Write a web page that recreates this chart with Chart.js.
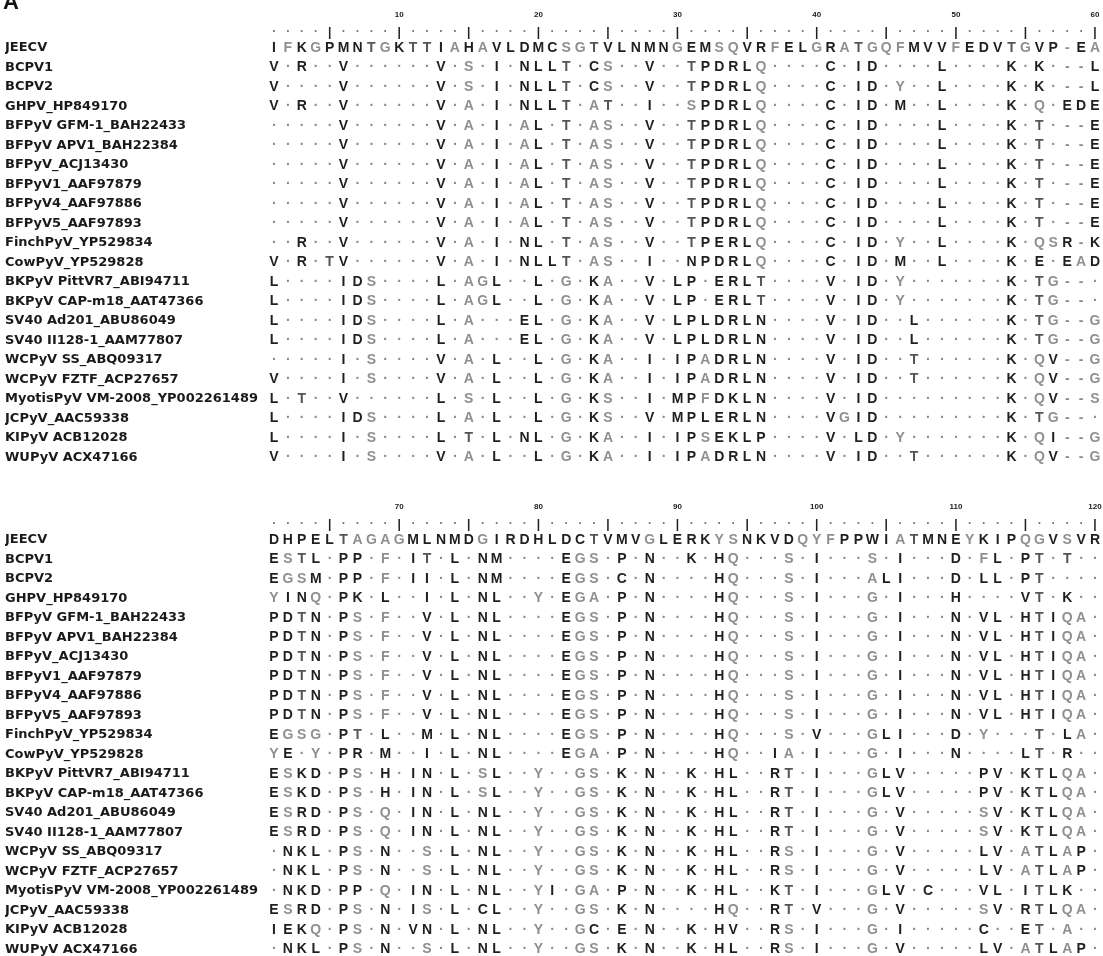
<!DOCTYPE html>
<html>
<head>
<meta charset="utf-8">
<script src="https://cdn.jsdelivr.net/npm/chart.js@4.4.0/dist/chart.umd.min.js"></script>
<style>
  html, body { margin: 0; padding: 0; background: #fff; }
</style>
</head>
<body>
<canvas id="alignChart" width="1103" height="956"></canvas>
<script>
// sequence names (same order in both blocks)
const names = [
  "JEECV", "BCPV1", "BCPV2", "GHPV_HP849170", "BFPyV GFM-1_BAH22433",
  "BFPyV APV1_BAH22384", "BFPyV_ACJ13430", "BFPyV1_AAF97879", "BFPyV4_AAF97886",
  "BFPyV5_AAF97893", "FinchPyV_YP529834", "CowPyV_YP529828", "BKPyV PittVR7_ABI94711",
  "BKPyV CAP-m18_AAT47366", "SV40 Ad201_ABU86049", "SV40 II128-1_AAM77807",
  "WCPyV SS_ABQ09317", "WCPyV FZTF_ACP27657", "MyotisPyV VM-2008_YP002261489",
  "JCPyV_AAC59338", "KIPyV ACB12028", "WUPyV ACX47166"
];

// positions 1-60
const seqTop = [
  "IFKGPMNTGKTTIAHAVLDMCSGTVLNMNGEMSQVRFELGRATGQFMVVFEDVTGVP-EA",
  "V.R..V......V.S.I.NLLT.CS..V..TPDRLQ....C.ID....L....K.K.--L",
  "V....V......V.S.I.NLLT.CS..V..TPDRLQ....C.ID.Y..L....K.K.--L",
  "V.R..V......V.A.I.NLLT.AT..I..SPDRLQ....C.ID.M..L....K.Q.EDE",
  ".....V......V.A.I.AL.T.AS..V..TPDRLQ....C.ID....L....K.T.--E",
  ".....V......V.A.I.AL.T.AS..V..TPDRLQ....C.ID....L....K.T.--E",
  ".....V......V.A.I.AL.T.AS..V..TPDRLQ....C.ID....L....K.T.--E",
  ".....V......V.A.I.AL.T.AS..V..TPDRLQ....C.ID....L....K.T.--E",
  ".....V......V.A.I.AL.T.AS..V..TPDRLQ....C.ID....L....K.T.--E",
  ".....V......V.A.I.AL.T.AS..V..TPDRLQ....C.ID....L....K.T.--E",
  "..R..V......V.A.I.NL.T.AS..V..TPERLQ....C.ID.Y..L....K.QSR-K",
  "V.R.TV......V.A.I.NLLT.AS..I..NPDRLQ....C.ID.M..L....K.E.EAD",
  "L....IDS....L.AGL..L.G.KA..V.LP.ERLT....V.ID.Y.......K.TG--.",
  "L....IDS....L.AGL..L.G.KA..V.LP.ERLT....V.ID.Y.......K.TG--.",
  "L....IDS....L.A...EL.G.KA..V.LPLDRLN....V.ID..L......K.TG--G",
  "L....IDS....L.A...EL.G.KA..V.LPLDRLN....V.ID..L......K.TG--G",
  ".....I.S....V.A.L..L.G.KA..I.IPADRLN....V.ID..T......K.QV--G",
  "V....I.S....V.A.L..L.G.KA..I.IPADRLN....V.ID..T......K.QV--G",
  "L.T..V......L.S.L..L.G.KS..I.MPFDKLN....V.ID.........K.QV--S",
  "L....IDS....L.A.L..L.G.KS..V.MPLERLN....VGID.........K.TG--.",
  "L....I.S....L.T.L.NL.G.KA..I.IPSEKLP....V.LD.Y.......K.QI--G",
  "V....I.S....V.A.L..L.G.KA..I.IPADRLN....V.ID..T......K.QV--G"
];

// positions 61-120
const seqBottom = [
  "DHPELTAGAGMLNMDGIRDHLDCTVMVGLERKYSNKVDQYFPPWIATMNEYKIPQGVSVR",
  "ESTL.PP.F.IT.L.NM....EGS.P.N..K.HQ...S.I...S.I...D.FL.PT.T..",
  "EGSM.PP.F.II.L.NM....EGS.C.N....HQ...S.I...ALI...D.LL.PT....",
  "YINQ.PK.L..I.L.NL..Y.EGA.P.N....HQ...S.I...G.I...H....VT.K..",
  "PDTN.PS.F..V.L.NL....EGS.P.N....HQ...S.I...G.I...N.VL.HTIQA.",
  "PDTN.PS.F..V.L.NL....EGS.P.N....HQ...S.I...G.I...N.VL.HTIQA.",
  "PDTN.PS.F..V.L.NL....EGS.P.N....HQ...S.I...G.I...N.VL.HTIQA.",
  "PDTN.PS.F..V.L.NL....EGS.P.N....HQ...S.I...G.I...N.VL.HTIQA.",
  "PDTN.PS.F..V.L.NL....EGS.P.N....HQ...S.I...G.I...N.VL.HTIQA.",
  "PDTN.PS.F..V.L.NL....EGS.P.N....HQ...S.I...G.I...N.VL.HTIQA.",
  "EGSG.PT.L..M.L.NL....EGS.P.N....HQ...S.V...GLI...D.Y...T.LA.",
  "YE.Y.PR.M..I.L.NL....EGA.P.N....HQ..IA.I...G.I...N....LT.R..",
  "ESKD.PS.H.IN.L.SL..Y..GS.K.N..K.HL..RT.I...GLV.....PV.KTLQA.",
  "ESKD.PS.H.IN.L.SL..Y..GS.K.N..K.HL..RT.I...GLV.....PV.KTLQA.",
  "ESRD.PS.Q.IN.L.NL..Y..GS.K.N..K.HL..RT.I...G.V.....SV.KTLQA.",
  "ESRD.PS.Q.IN.L.NL..Y..GS.K.N..K.HL..RT.I...G.V.....SV.KTLQA.",
  ".NKL.PS.N..S.L.NL..Y..GS.K.N..K.HL..RS.I...G.V.....LV.ATLAP.",
  ".NKL.PS.N..S.L.NL..Y..GS.K.N..K.HL..RS.I...G.V.....LV.ATLAP.",
  ".NKD.PP.Q.IN.L.NL..YI.GA.P.N..K.HL..KT.I...GLV.C...VL.ITLK..",
  "ESRD.PS.N.IS.L.CL..Y..GS.K.N....HQ..RT.V...G.V.....SV.RTLQA.",
  "IEKQ.PS.N.VN.L.NL..Y..GC.E.N..K.HV..RS.I...G.I.....C..ET.A..",
  ".NKL.PS.N..S.L.NL..Y..GS.K.N..K.HL..RS.I...G.V.....LV.ATLAP."
];

const rulerTop = [10, 20, 30, 40, 50, 60];
const rulerBottom = [70, 80, 90, 100, 110, 120];

// layout in row units
const ROW_TOP = 48, ROW_H = 19.5;
const PANEL2 = (540 - ROW_TOP) / ROW_H;
const yMin = -ROW_TOP / ROW_H;
const yMax = yMin + 956 / ROW_H;

// residue shading
const darkRes = "KRDEHNMLIVCPW";
const midRes = "T";
const resColor = (ch) => {
  if (ch === "." || ch === "-") return "#8a8a8a";
  if (darkRes.includes(ch)) return "#1f1f1f";
  if (midRes.includes(ch)) return "#555";
  return "#8f8f8f";
};

function cells(seqs, offset) {
  const pts = [], chars = [];
  seqs.forEach((s, r) => {
    [...s].forEach((c, i) => {
      pts.push({ x: i + 1, y: offset + r });
      chars.push(c);
    });
  });
  return { pts, chars };
}

function ruler(labels, start, offset) {
  const pts = [], chars = [];
  for (let c = 1; c <= 60; c++) {
    pts.push({ x: c, y: offset - 0.78 });
    chars.push((c + start - 1) % 5 === 0 ? "|" : ".");
  }
  const lp = labels.map(v => ({ x: v - start + 1, y: offset - 1.7 }));
  return { pts, chars, lp, lchars: labels.map(String) };
}

const topCells = cells(seqTop, 0),
  bottomCells = cells(seqBottom, PANEL2),
  topRuler = ruler(rulerTop, 1, 0),
  bottomRuler = ruler(rulerBottom, 61, PANEL2);

const tickRows = names.map((n, i) => i).concat(names.map((n, i) => PANEL2 + i));
const tickNames = names.concat(names);

const seqFont = 'bold 14px "Liberation Sans", Arial, sans-serif';
const rulerFont = 'bold 12px "Liberation Sans", Arial, sans-serif';
const numFont = 'bold 8px "Liberation Sans", Arial, sans-serif';

const mkSet = (pts, chars, font, colorFor) => ({
  data: pts, chars: chars, textFont: font, colorFor: colorFor,
  pointRadius: 0, showLine: false
});

const textMarks = {
  id: "textMarks",
  afterDatasetsDraw(chart) {
    const ctx = chart.ctx;
    chart.data.datasets.forEach((ds, i) => {
      const meta = chart.getDatasetMeta(i);
      ctx.save();
      ctx.font = ds.textFont;
      ctx.textAlign = "center";
      ctx.textBaseline = "middle";
      meta.data.forEach((pt, j) => {
        const ch = ds.chars[j];
        ctx.fillStyle = ds.colorFor(ch);
        ctx.fillText(ch, pt.x, ch === "." ? pt.y - 4 : pt.y);
      });
      ctx.restore();
    });
    // panel letter, cut off at the top edge
    ctx.save();
    ctx.font = 'bold 22px "Liberation Sans", Arial, sans-serif';
    ctx.fillStyle = "#111";
    ctx.textBaseline = "alphabetic";
    ctx.fillText("A", 3, 9);
    ctx.restore();
  }
};

new Chart("alignChart", {
  type: "scatter",
  data: {
    datasets: [
      mkSet(topCells.pts, topCells.chars, seqFont, resColor),
      mkSet(bottomCells.pts, bottomCells.chars, seqFont, resColor),
      mkSet(topRuler.pts, topRuler.chars, rulerFont, (c) => c === "|" ? "#222" : "#777"),
      mkSet(bottomRuler.pts, bottomRuler.chars, rulerFont, (c) => c === "|" ? "#222" : "#777"),
      mkSet(topRuler.lp, topRuler.lchars, numFont, () => "#222"),
      mkSet(bottomRuler.lp, bottomRuler.lchars, numFont, () => "#222")
    ]
  },
  options: {
    responsive: false,
    animation: false,
    events: [],
    layout: { padding: { left: 5, right: 1, top: 0, bottom: 0 } },
    plugins: { legend: { display: false }, tooltip: { enabled: false } },
    scales: {
      x: { type: "linear", min: 0.5, max: 60.5, display: false },
      y: {
        type: "linear",
        reverse: true,
        min: yMin,
        max: yMax,
        grid: { display: false },
        border: { display: false },
        afterBuildTicks: (scale) => {
          scale.ticks = tickRows.map(v => ({ value: v }));
        },
        afterFit: (scale) => {
          scale.width = 262;
          scale.paddingTop = 0;
          scale.paddingBottom = 0;
        },
        ticks: {
          autoSkip: false,
          crossAlign: "far",
          padding: 0,
          color: "#1a1a1a",
          font: { family: '"DejaVu Sans", sans-serif', weight: "bold", size: 13 },
          callback: (v, i) => tickNames[i]
        }
      }
    }
  },
  plugins: [textMarks]
});
</script>
</body>
</html>
